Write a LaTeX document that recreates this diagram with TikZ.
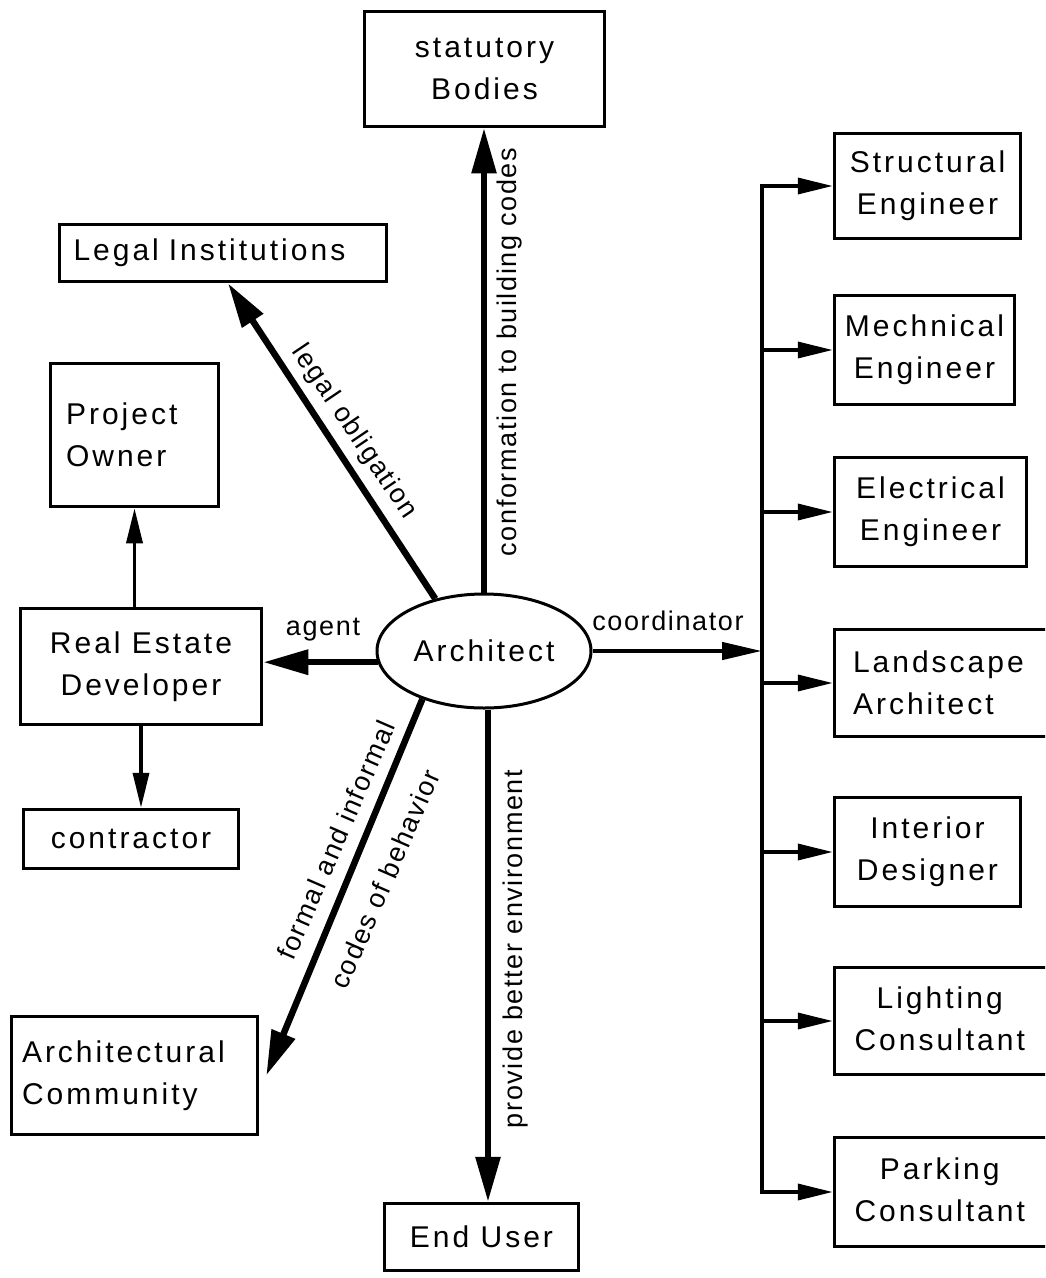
\documentclass[tikz,border=0pt]{standalone}
\usepackage{fontspec}
\newfontfamily\boxfont{Liberation Sans}[LetterSpace=10]
\newfontfamily\lblfont{Liberation Sans}[LetterSpace=6]
\usetikzlibrary{arrows.meta,shapes.geometric}
\newcommand\boxtext{\boxfont\fontsize{30}{42}\selectfont}
\newcommand\lbltext{\lblfont\fontsize{27}{32}\selectfont}

\begin{document}
\begin{tikzpicture}[x=1pt,y=-1pt,
  box/.style={draw, line width=3.5pt, inner sep=0pt, align=center, font=\boxtext},
  lbl/.style={inner sep=0pt, font=\lbltext},
  heavy/.style={line width=6.5pt, -{Triangle[length=45pt,width=24pt]}},
  coordarrow/.style={line width=4.5pt, -{Triangle[length=40pt,width=17pt]}},
  thinarrow/.style={line width=3.5pt, -{Triangle[length=35pt,width=16pt]}},
  busline/.style={line width=4pt}]

\fill[white] (0,0) rectangle (1045,1278);
\useasboundingbox (0,0) rectangle (1045,1278);
\clip (0,0) rectangle (1045,1278);

% central actor
\node[draw, ellipse, line width=3pt, minimum width=214pt, minimum height=114pt,
      inner sep=0pt, font=\boxtext] (arch) at (484,651) {Architect};

% left and centre parties
\node[box, minimum width=240pt, minimum height=115pt] (stat) at (484.5,69) {statutory\\Bodies};
\node[box, minimum height=57pt, text width=299pt, inner xsep=14pt, align=left] (legal) at (223,253) {Legal Institutions};
\node[box, minimum height=143pt, text width=137pt, inner xsep=15.5pt, align=left] (owner) at (134.5,435) {Project\\Owner};
\node[box, minimum width=241pt, minimum height=116pt] (dev) at (141,666.5) {Real Estate\\Developer};
\node[box, minimum width=215pt, minimum height=59pt] (contr) at (131,839) {contractor};
\node[box, minimum height=118pt, text width=225pt, inner xsep=10.5pt, align=left] (comm) at (134.5,1075.5) {Architectural\\Community};
\node[box, minimum width=194pt, minimum height=67pt] (user) at (481.5,1237) {End User};

% consultants
\node[box, minimum width=186pt, minimum height=105pt] (struct) at (927.5,186) {Structural\\Engineer};
\node[box, minimum width=180pt, minimum height=109pt] (mech) at (924.5,350) {Mechnical\\Engineer};
\node[box, minimum width=192pt, minimum height=109pt] (elec) at (930.5,512) {Electrical\\Engineer};
\node[box, minimum height=107pt, text width=187pt, inner xsep=18.5pt, align=left] (land) at (946.5,683) {Landscape\\Architect};
\node[box, minimum width=186pt, minimum height=109pt] (inter) at (927.5,852) {Interior\\Designer};
\node[box, minimum height=107pt, text width=184pt, inner xsep=20pt, align=left] (lighting) at (946.5,1021)
  {\begin{tabular}{@{}c@{}}Lighting\\Consultant\end{tabular}};
\node[box, minimum height=109pt, text width=184pt, inner xsep=20pt, align=left] (park) at (946.5,1192)
  {\begin{tabular}{@{}c@{}}Parking\\Consultant\end{tabular}};

% coordination bus
\coordinate (bus) at (762,651);
\draw[coordarrow] (arch.east) -- (bus);
\draw[busline] (bus |- struct.west) -- (bus |- park.west);
\foreach \b in {struct,mech,elec,land,inter,lighting,park}
  \draw[thinarrow, line cap=rect] (bus |- \b.west) -- (\b.west);

% relations of the architect
\draw[heavy] (arch.133) -- ([xshift=5pt]legal.south);
\draw[heavy, line width=5.5pt] (arch.north) -- (arch.north |- stat.south);
\draw[heavy] (arch.186) -- (arch.186 -| dev.east);
\draw[heavy] (arch.218) -- ([xshift=7pt]comm.east);
\draw[heavy, line width=6pt] ([xshift=4pt]arch.south) -- ([xshift=4pt]arch.south |- user.north);

% developer relations
\draw[thinarrow] (owner.south |- dev.north) -- (owner.south);
\draw[thinarrow] (dev.south) -- (dev.south |- contr.north);

% connector labels
\node[lbl] (t-agent) at (323,630) {agent};
\node[lbl] (t-coord) at (668,621) {coordinator};
\node[lbl, rotate=-56] (t-legal) at (354,432) {legal obligation};
\node[lbl, rotate=90] (t-codes) at (510,352) {conformation to building codes};
\node[lbl, rotate=90] (t-env) at (516,949) {provide better environment};
\node[lbl, rotate=66.5] (t-formal) at (336,840) {formal and informal};
\node[lbl, rotate=66.5] (t-behav) at (385,879) {codes of behavior};
\end{tikzpicture}
\end{document}
